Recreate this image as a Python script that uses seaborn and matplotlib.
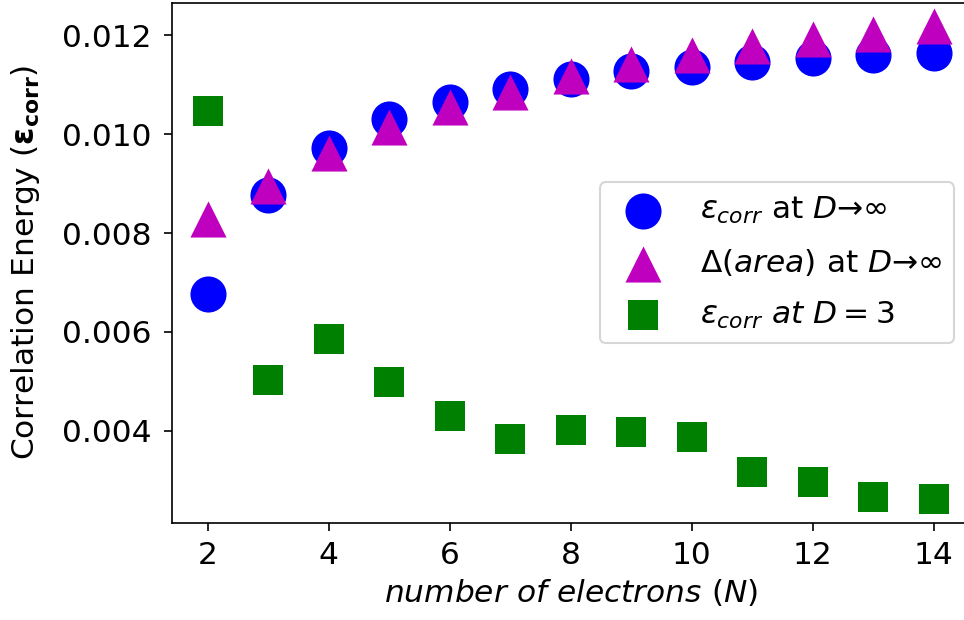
import matplotlib
matplotlib.use("Agg")
import matplotlib.pyplot as plt
import seaborn as sns
import pandas as pd

# Number of electrons
n_electrons = [2, 3, 4, 5, 6, 7, 8, 9, 10, 11, 12, 13, 14]

# Correlation energy in the D -> infinity limit
eps_corr_inf = [0.00677, 0.00877, 0.00973, 0.01030, 0.01065, 0.01092, 0.01112,
                0.01127, 0.01136, 0.01146, 0.01155, 0.01161, 0.01165]

# Area difference in the D -> infinity limit
delta_area_inf = [0.00828, 0.00896, 0.00962, 0.01015, 0.01054, 0.01086, 0.01117,
                  0.01141, 0.01160, 0.01179, 0.01193, 0.01203, 0.01218]

# Correlation energy at D = 3
eps_corr_d3 = [0.01047, 0.00503, 0.00585, 0.00499, 0.00431, 0.00383, 0.00402,
               0.00397, 0.00388, 0.00316, 0.00296, 0.00267, 0.00262]

df = pd.DataFrame({
    "N": n_electrons,
    "eps_inf": eps_corr_inf,
    "area_inf": delta_area_inf,
    "eps_d3": eps_corr_d3,
})

plt.rcParams["font.size"] = 15
plt.rcParams["font.family"] = ["DejaVu Sans"]
plt.rcParams["mathtext.fontset"] = "dejavusans"

fig = plt.figure(figsize=(964 / 150, 620 / 150), dpi=150)
ax = fig.add_axes([0.1781, 0.1569, 0.8281, 0.8387])

sns.scatterplot(data=df, x="N", y="eps_inf", ax=ax, color="b", marker="o",
                s=300, linewidth=0,
                label=r"$\varepsilon_{corr}$ at $D$→∞")
sns.scatterplot(data=df, x="N", y="area_inf", ax=ax, color="m", marker="^",
                s=300, linewidth=0,
                label=r"$\Delta(area)$ at $D$→∞")
sns.scatterplot(data=df, x="N", y="eps_d3", ax=ax, color="g", marker="s",
                s=200, linewidth=0,
                label=r"$\varepsilon_{corr}\ at\ D=3$")

ax.set_xticks([2, 4, 6, 8, 10, 12, 14])
ax.set_yticks([0.004, 0.006, 0.008, 0.010, 0.012])
ax.tick_params(axis="both", length=4)
ax.tick_params(axis="x", pad=5)
ax.tick_params(axis="y", pad=5.5)
ax.spines["right"].set_visible(False)

ax.set_xlabel(r"$number\ of\ electrons\ (N)$", fontsize=15, labelpad=3)
ax.set_ylabel(r"Correlation Energy ($\mathbf{\varepsilon_{corr}}$)", fontsize=15)
ax.yaxis.set_label_coords(-0.163, 0.5)

ax.legend(loc="center right", fontsize=15, labelspacing=0.68)

fig.savefig("out.png", dpi=150)
